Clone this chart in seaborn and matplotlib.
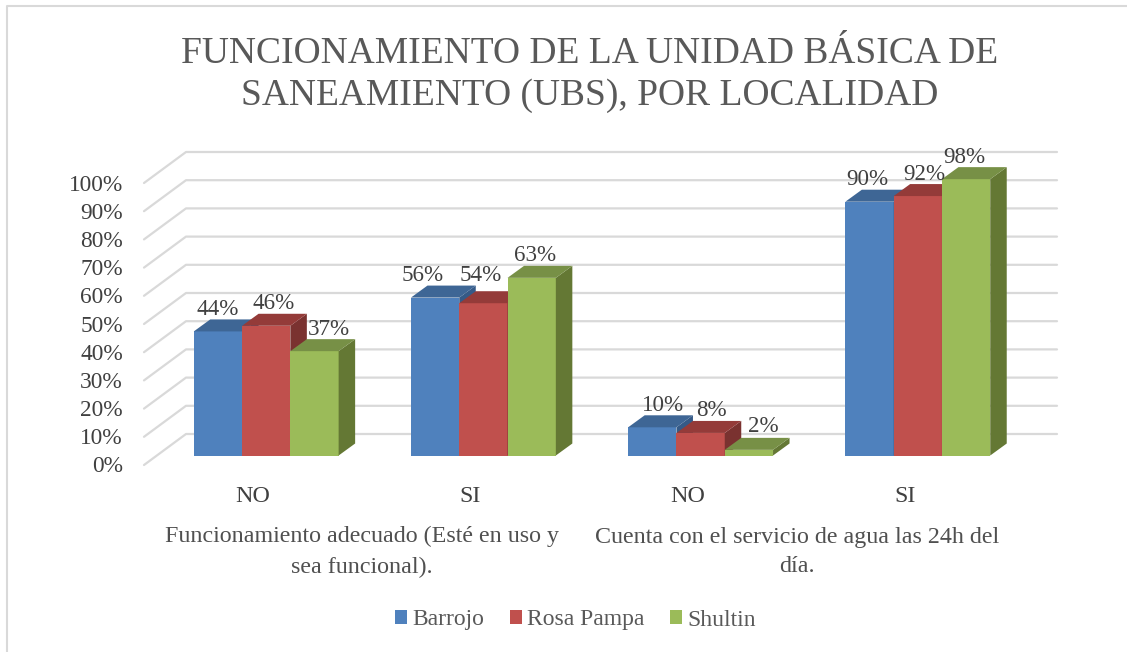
import matplotlib
matplotlib.use('Agg')
import matplotlib.pyplot as plt
import pandas as pd
import seaborn as sns
from matplotlib.lines import Line2D
from matplotlib.patches import Patch, Polygon
from matplotlib.transforms import Affine2D, IdentityTransform

# data
categories = ['Funcionamiento NO', 'Funcionamiento SI', 'Agua NO', 'Agua SI']
tick_labels = ['NO', 'SI', 'NO', 'SI']
barrojo = [44, 56, 10, 90]
rosa_pampa = [46, 54, 8, 92]
shultin = [37, 63, 2, 98]
series_names = ['Barrojo', 'Rosa Pampa', 'Shultin']

title = 'FUNCIONAMIENTO DE LA UNIDAD BÁSICA DE\nSANEAMIENTO (UBS), POR LOCALIDAD'
group_labels = ['Funcionamiento adecuado (Esté en uso y\nsea funcional).',
                'Cuenta con el servicio de agua las 24h del\ndía.']

# look of the fake 3D faces
front_colors = ['#4F81BD', '#C0504D', '#9BBB59']
top_colors = ['#3E6695', '#943B39', '#779046']
side_colors = ['#355A87', '#7A3230', '#647834']
DEPTH_X, DEPTH_Y = 16.5, 12
W, H = 1127, 652

# manual label nudges from the original chart (pixels, one row per series)
nudge_x = [[0, -12, 11, -2], [7, -3, 11, 7], [14, 3, 14, -2]]
nudge_y = [[0, 0, 0, 0], [0, 6, 0, 0], [0, 0, 1, 0]]

sns.set_theme(style='white')
plt.rcParams['font.family'] = ['Liberation Serif', 'DejaVu Serif']

df = pd.DataFrame({
    'categoria': categories * 3,
    'localidad': [n for n in series_names for _ in categories],
    'valor': barrojo + rosa_pampa + shultin,
})

fig = plt.figure(figsize=(W / 100, H / 100), dpi=100)
ax = fig.add_axes([157.6 / W, 1 - 455.5 / H, 868.8 / W, 282 / H])
ax.patch.set_alpha(0)

sns.barplot(data=df, x='categoria', y='valor', hue='localidad', order=categories,
            hue_order=series_names, palette=front_colors, width=0.667, gap=0,
            saturation=1, legend=False, ax=ax)
ax.set_xlim(-0.5, 3.5)
ax.set_ylim(0, 100)
ax.set_xlabel('')
ax.set_ylabel('')
sns.despine(ax=ax, left=True, bottom=True)

ax.set_xticks(range(4))
ax.set_xticklabels(tick_labels)
ax.set_yticks(range(0, 101, 10))
ax.set_yticklabels([f'{v}%' for v in range(0, 101, 10)])
ax.tick_params(axis='x', length=0, pad=22, labelsize=17.3, labelcolor='#404040')
ax.tick_params(axis='y', length=0, pad=25, labelsize=16.8, labelcolor='#404040')
for lab in ax.get_yticklabels():
    lab.set_transform(lab.get_transform() + Affine2D().translate(0, -9))
for lab in ax.get_xticklabels():
    lab.set_transform(lab.get_transform() + Affine2D().translate(-13, 0))

px = IdentityTransform()

# gridlines on the floor edge and the back wall
for v in range(0, 101, 10):
    y0 = ax.transData.transform((0, v))[1]
    pts = [(144, y0 - 9.5), (186, y0 + 21.5), (1057, y0 + 21.5)]
    ax.add_line(Line2D([p[0] for p in pts], [p[1] for p in pts], transform=px,
                       color='#D9D9D9', lw=1.6, clip_on=False, zorder=0.5))

# tops and sides of the bars, later series sit over earlier ones
for i, container in enumerate(ax.containers):
    for j, bar in enumerate(container):
        bar.set_zorder(2 + 2 * i)
        bar.set_edgecolor('none')
        (x0, y0), (x1, y1) = ax.transData.transform(
            [(bar.get_x(), 0), (bar.get_x() + bar.get_width(), bar.get_height())])
        top = [(x0, y1), (x1, y1), (x1 + DEPTH_X, y1 + DEPTH_Y), (x0 + DEPTH_X, y1 + DEPTH_Y)]
        side = [(x1, y0), (x1, y1), (x1 + DEPTH_X, y1 + DEPTH_Y), (x1 + DEPTH_X, y0 + DEPTH_Y)]
        ax.add_patch(Polygon(side, transform=px, fc=side_colors[i], ec='none',
                             clip_on=False, zorder=2.5 + 2 * i))
        ax.add_patch(Polygon(top, transform=px, fc=top_colors[i], ec='none',
                             clip_on=False, zorder=2.5 + 2 * i))
        ax.text((x0 + x1) / 2 + nudge_x[i][j], y1 + 22 + nudge_y[i][j],
                f'{bar.get_height():.0f}%', transform=px, ha='center', va='center',
                fontsize=16.6, color='#404040', zorder=20)

fig.text(590 / W, 1 - 74.5 / H, title, ha='center', va='center', fontsize=27,
         color='#595959', linespacing=1.28)
fig.text(362 / W, 1 - 552 / H, group_labels[0], ha='center', va='center', fontsize=17.3,
         color='#505050', linespacing=1.56)
fig.text(797 / W, 1 - 552 / H, group_labels[1], ha='center', va='center', fontsize=17.3,
         color='#505050', linespacing=1.56)

handles = [Patch(fc=c, ec='none', label=n) for c, n in zip(front_colors, series_names)]
fig.legend(handles=handles, loc='center', bbox_to_anchor=(575.5 / W, 1 - 620 / H), ncols=3,
           frameon=False, fontsize=17, labelcolor='#595959', handlelength=0.51,
           handleheight=0.51, handletextpad=0.25, columnspacing=1.06)

# chart frame, only left and top edges are inside the picture
fig.add_artist(Line2D([7 / W, 7 / W, 1], [0, 1 - 5.8 / H, 1 - 5.8 / H],
                      color='#D9D9D9', lw=1.5))

fig.savefig('out.png', dpi=100)
